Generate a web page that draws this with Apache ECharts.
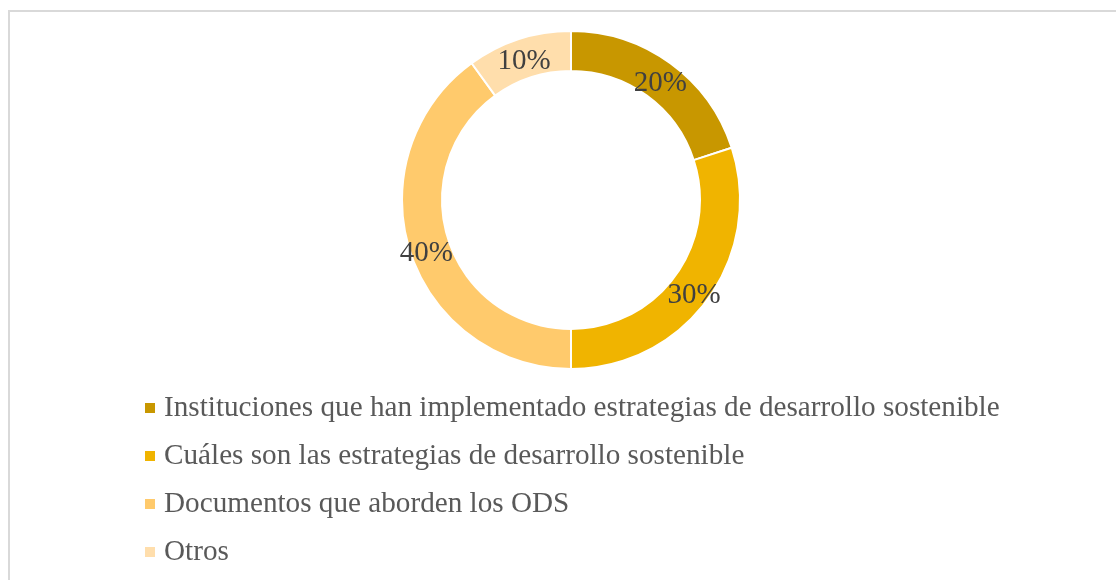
<!DOCTYPE html>
<html>
<head>
<meta charset="utf-8">
<script src="https://cdn.jsdelivr.net/npm/echarts@6/dist/echarts.min.js"></script>
<style>
  html, body { margin: 0; padding: 0; background: #fff; }
  #wrap { position: relative; width: 1116px; height: 580px; overflow: hidden; }
  #frame { position: absolute; left: 8px; top: 10px; width: 1200px; height: 700px; border: 2px solid #d9d9d9; box-sizing: border-box; }
  #chart { position: absolute; left: 0; top: 0; width: 1116px; height: 580px; }
</style>
</head>
<body>
<div id="wrap">
  <div id="frame"></div>
  <div id="chart"></div>
</div>
<script>
// categorías y porcentajes
const categories = [
  'Instituciones que han implementado estrategias de desarrollo sostenible',
  'Cuáles son las estrategias de desarrollo sostenible',
  'Documentos que aborden los ODS',
  'Otros'
];
const values = [20, 30, 40, 10];
const palette = ['#c89700', '#f0b400', '#ffca6c', '#ffdeac'];

const serif = "'Liberation Serif', 'Times New Roman', serif";

const chart = echarts.init(document.getElementById('chart'));

chart.setOption({
  animation: false,
  color: palette,
  legend: {
    orient: 'vertical',
    left: 140,
    top: 388,
    icon: 'rect',
    itemWidth: 10,
    itemHeight: 10,
    itemGap: 18,
    itemStyle: { borderWidth: 0 },
    textStyle: {
      fontFamily: serif,
      fontSize: 29.2,
      lineHeight: 30,
      color: '#595959',
      padding: [0, 0, 0, 4]
    },
    data: categories
  },
  series: [{
    type: 'pie',
    center: [571, 200],
    radius: [129, 169],
    startAngle: 90,
    clockwise: true,
    avoidLabelOverlap: false,
    itemStyle: { borderColor: '#fff', borderWidth: 2 },
    label: {
      show: true,
      position: 'inside',
      formatter: '{c}%',
      fontFamily: serif,
      fontSize: 29,
      color: '#404040'
    },
    labelLayout: { dy: 6 },
    labelLine: { show: false },
    emphasis: { disabled: true },
    data: categories.map((name, i) => ({ name, value: values[i] }))
  }]
});
</script>
</body>
</html>
